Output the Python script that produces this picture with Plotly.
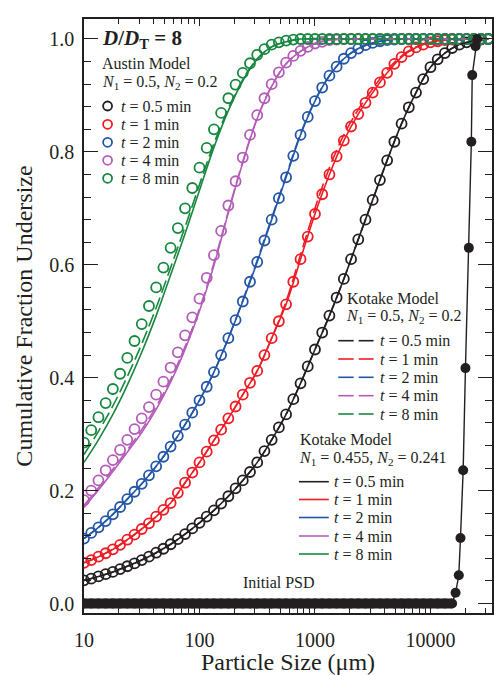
import math
import plotly.graph_objects as go

# ---------------- data ----------------
sizes_um = [10, 11.55, 13.34, 15.40, 17.78, 20.54, 23.71, 27.38, 31.62, 36.52,
            42.17, 48.70, 56.23, 64.94, 74.99, 86.60, 100, 115.5, 133.4, 154.0,
            177.8, 205.4, 237.1, 273.8, 316.2, 365.2, 421.7, 487.0, 562.3, 649.4,
            749.9, 866.0, 1000, 1155, 1334, 1540, 1778, 2054, 2371, 2738,
            3162, 3652, 4217, 4870, 5623, 6494, 7499, 8660, 10000, 11548,
            13335, 15399, 17783, 20535, 23714, 27384, 31623]

line_sizes = [10, 13.34, 17.78, 23.71, 31.62, 42.17, 56.23, 74.99, 100, 133.4,
              177.8, 237.1, 316.2, 421.7, 562.3, 749.9, 1000, 1334, 1778, 2371,
              3162, 4217, 5623, 7499, 10000, 13335, 17783, 23714, 31623]

# Austin model (open circles)
austin_05 = [.041, .044, .048, .052, .056, .061, .066, .071, .077, .083,
             .090, .097, .105, .114, .123, .133, .143, .154, .165, .177,
             .19, .204, .218, .233, .25, .27, .29, .312, .335, .362,
             .39, .42, .45, .48, .51, .542, .575, .61, .645, .68,
             .715, .75, .785, .818, .85, .879, .905, .929, .95, .964,
             .975, .984, .99, .994, .997, .999, 1.0]
austin_1 = [.072, .077, .083, .089, .096, .104, .113, .122, .132, .142,
            .154, .166, .178, .196, .214, .232, .25, .269, .289, .308,
            .328, .349, .37, .391, .412, .44, .47, .50, .53, .57,
            .61, .65, .69, .725, .76, .792, .82, .845, .867, .887,
            .905, .923, .94, .956, .968, .978, .985, .99, .994, .996,
            .998, .999, 1, 1, 1, 1, 1]
austin_2 = [.115, .125, .135, .146, .158, .171, .185, .198, .212, .227,
            .243, .26, .278, .297, .317, .338, .36, .384, .41, .44,
            .47, .502, .535, .57, .605, .643, .68, .718, .755, .793,
            .83, .862, .89, .914, .935, .951, .965, .975, .983, .989,
            .993, .996, .998, .999, 1, 1, 1, 1, 1, 1,
            1, 1, 1, 1, 1, 1, 1]
austin_4 = [.183, .2, .218, .236, .254, .272, .29, .309, .328, .348,
            .37, .393, .418, .445, .475, .507, .54, .577, .617, .66,
            .705, .748, .79, .83, .865, .895, .92, .941, .958, .97,
            .979, .986, .992, .995, .998, .999, 1, 1, 1, 1,
            1, 1, 1, 1, 1, 1, 1, 1, 1, 1,
            1, 1, 1, 1, 1, 1, 1]
austin_8 = [.285, .307, .33, .355, .38, .407, .435, .465, .495, .527,
            .56, .595, .63, .665, .70, .736, .772, .807, .84, .869,
            .895, .919, .94, .957, .972, .982, .99, .994, .997, .999,
            1, 1, 1, 1, 1, 1, 1, 1, 1, 1,
            1, 1, 1, 1, 1, 1, 1, 1, 1, 1,
            1, 1, 1, 1, 1, 1, 1]

# Kotake model N1=0.5, N2=0.2 (dashed)
kot_a_05 = [.041, .048, .056, .066, .077, .090, .105, .123, .143, .165,
            .19, .218, .25, .29, .335, .39, .45, .51, .575, .645,
            .715, .785, .85, .905, .95, .975, .99, .997, 1.0]
kot_a_1 = [.072, .083, .096, .113, .132, .154, .178, .214, .25, .289,
           .328, .37, .412, .47, .535, .618, .70, .772, .83, .875,
           .912, .945, .97, .986, .995, .999, 1, 1, 1]
kot_a_2 = [.115, .135, .158, .185, .212, .243, .278, .317, .36, .41,
           .47, .537, .608, .683, .758, .832, .891, .935, .965, .983,
           .993, .998, 1, 1, 1, 1, 1, 1, 1]
kot_a_4 = [.174, .205, .238, .272, .308, .349, .397, .455, .522, .603,
           .695, .783, .86, .917, .956, .978, .992, .998, 1, 1,
           1, 1, 1, 1, 1, 1, 1, 1, 1]
kot_a_8 = [.264, .305, .35, .402, .46, .524, .595, .667, .742, .815,
           .877, .928, .965, .986, .995, 1, 1, 1, 1, 1,
           1, 1, 1, 1, 1, 1, 1, 1, 1]

# Kotake model N1=0.455, N2=0.241 (solid)
kot_b_05 = [.041, .048, .056, .066, .077, .090, .105, .123, .143, .165,
            .19, .218, .25, .29, .335, .39, .45, .51, .575, .645,
            .715, .785, .85, .905, .95, .975, .99, .997, 1.0]
kot_b_1 = [.072, .083, .096, .113, .132, .154, .178, .214, .25, .289,
           .328, .37, .412, .47, .53, .61, .69, .76, .82, .867,
           .905, .94, .968, .985, .994, .998, 1, 1, 1]
kot_b_2 = [.115, .135, .158, .185, .212, .243, .278, .317, .36, .41,
           .47, .535, .605, .68, .755, .83, .89, .935, .965, .983,
           .993, .998, 1, 1, 1, 1, 1, 1, 1]
kot_b_4 = [.170, .201, .234, .268, .303, .344, .392, .45, .518, .599,
           .692, .781, .859, .916, .956, .978, .992, .998, 1, 1,
           1, 1, 1, 1, 1, 1, 1, 1, 1]
kot_b_8 = [.25, .29, .335, .387, .445, .51, .582, .655, .732, .808,
           .873, .926, .964, .986, .995, 1, 1, 1, 1, 1,
           1, 1, 1, 1, 1, 1, 1, 1, 1]

# Initial PSD (filled circles)
init_zero_count = 52
init_tail_sizes = [16500, 17600, 18200, 19200, 20100, 21500, 22600, 23000, 24600, 25400]
init_tail_vals = [0.019, 0.05, 0.116, 0.236, 0.417, 0.63, 0.818, 0.936, 0.987, 1.0]

times = ["0.5", "1", "2", "4", "8"]
colors = ["#231f20", "#ee1c25", "#2456a6", "#b35db8", "#17873f"]
austin = [austin_05, austin_1, austin_2, austin_4, austin_8]
kot_a = [kot_a_05, kot_a_1, kot_a_2, kot_a_4, kot_a_8]
kot_b = [kot_b_05, kot_b_1, kot_b_2, kot_b_4, kot_b_8]

# ---------------- layout geometry ----------------
W, H = 494, 675
L, R, T, B = 84, 0, 19, 62
PW, PH = W - L - R, H - T - B
FONT = "Liberation Serif"
INK = "#231f20"


def pxx(x):
    return (x - L) / PW


def pxy(y):
    return (H - B - y) / PH


fig = go.Figure()

for c, ys in zip(colors, kot_b):
    fig.add_trace(go.Scatter(x=line_sizes, y=ys, mode="lines", line_shape="spline",
                             line=dict(color=c, width=1.6), showlegend=False))
for c, ys in zip(colors, austin):
    fig.add_trace(go.Scatter(x=sizes_um, y=ys, mode="markers",
                             marker=dict(symbol="circle-open", size=10, color=c,
                                         line=dict(width=1.8, color=c)),
                             showlegend=False))
for c, ys in zip(colors, kot_a):
    fig.add_trace(go.Scatter(x=line_sizes, y=ys, mode="lines", line_shape="spline",
                             line=dict(color=c, width=1.6, dash="13px,5px"), showlegend=False))

# Initial PSD: dense zero section rendered as a thick band of filled circles
init_zero_x = sizes_um[:init_zero_count]
fig.add_trace(go.Scatter(x=init_zero_x, y=[0.0] * init_zero_count, mode="lines",
                         line=dict(color=INK, width=10), showlegend=False))
init_x = init_zero_x + init_tail_sizes
init_y = [0.0] * init_zero_count + init_tail_vals
fig.add_trace(go.Scatter(x=init_x, y=init_y, mode="lines+markers",
                         line=dict(color=INK, width=1.4),
                         marker=dict(symbol="circle", size=10, color=INK),
                         showlegend=False))

shapes = []
annotations = []


def text(x, y, s, size=16):
    annotations.append(dict(xref="paper", yref="paper", x=pxx(x), y=pxy(y), text=s,
                            showarrow=False, xanchor="left", yanchor="middle",
                            font=dict(family=FONT, size=size, color=INK)))


text(100, 39, "<b><i>D</i>/<i>D</i><sub>T</sub> = 8</b>", size=21)

# Austin legend
text(100, 63, "Austin Model")
text(100, 82, "<i>N</i><sub>1</sub> = 0.5, <i>N</i><sub>2</sub> = 0.2")
leg_y1 = [106, 124.3, 142.3, 160.3, 178.3]
for c, t, y in zip(colors, times, leg_y1):
    r = 4.5
    shapes.append(dict(type="circle", xref="paper", yref="paper",
                       x0=pxx(107.7 - r), x1=pxx(107.7 + r), y0=pxy(y + r), y1=pxy(y - r),
                       line=dict(color=c, width=1.8)))
    text(119, y, f"<i>t</i> = {t} min")

# Kotake model 1 legend (dashed)
text(346, 298.5, "Kotake Model")
text(345, 316, "<i>N</i><sub>1</sub> = 0.5, <i>N</i><sub>2</sub> = 0.2")
leg_y2 = [340.7, 359, 377.3, 395.7, 414]
for c, t, y in zip(colors, times, leg_y2):
    for a, b in [(339.5, 355), (360, 375)]:
        shapes.append(dict(type="line", xref="paper", yref="paper",
                           x0=pxx(a), x1=pxx(b), y0=pxy(y), y1=pxy(y),
                           line=dict(color=c, width=1.6)))
    text(379, y, f"<i>t</i> = {t} min")

# Kotake model 2 legend (solid)
text(299, 440, "Kotake Model")
text(298, 458, "<i>N</i><sub>1</sub> = 0.455, <i>N</i><sub>2</sub> = 0.241")
leg_y3 = [481.7, 499.5, 517.5, 536, 554]
for c, t, y in zip(colors, times, leg_y3):
    shapes.append(dict(type="line", xref="paper", yref="paper",
                       x0=pxx(300), x1=pxx(330), y0=pxy(y), y1=pxy(y),
                       line=dict(color=c, width=1.6)))
    text(333, y, f"<i>t</i> = {t} min")

text(242, 582, "Initial PSD")

fig.update_layout(
    width=W, height=H,
    margin=dict(l=L, r=R, t=T, b=B, pad=0),
    paper_bgcolor="white", plot_bgcolor="white",
    font=dict(family=FONT, size=20, color=INK),
    shapes=shapes, annotations=annotations,
    showlegend=False,
)
fig.update_xaxes(
    type="log", range=[1, 4.533],
    tickvals=[10, 100, 1000, 10000], ticktext=["10", "100", "1000", "10000"],
    ticks="inside", ticklen=7, tickwidth=1.3, tickcolor=INK,
    minor=dict(ticks="inside", ticklen=5, tickwidth=1.1, tickcolor=INK, dtick="D1", showgrid=False),
    showline=True, linecolor=INK, linewidth=1.5, mirror="allticks",
    showgrid=False, zeroline=False,
    tickfont=dict(family=FONT, size=20),
    ticklabelstandoff=8,
    title=dict(text="Particle Size (μm)", font=dict(family=FONT, size=24), standoff=4),
)
fig.update_yaxes(
    range=[-0.0168, 1.0354],
    tickvals=[0, 0.2, 0.4, 0.6, 0.8, 1.0], ticktext=["0.0", "0.2", "0.4", "0.6", "0.8", "1.0"],
    ticks="inside", ticklen=14, tickwidth=1.3, tickcolor=INK,
    minor=dict(ticks="inside", ticklen=7, tickwidth=1.1, tickcolor=INK, dtick=0.04, tick0=0, showgrid=False),
    showline=True, linecolor=INK, linewidth=1.5, mirror="allticks",
    showgrid=False, zeroline=False,
    tickfont=dict(family=FONT, size=20),
    ticklabelstandoff=4,
    title=dict(text="Cumulative Fraction Undersize", font=dict(family=FONT, size=24), standoff=10),
)

fig.write_html("out.html")
